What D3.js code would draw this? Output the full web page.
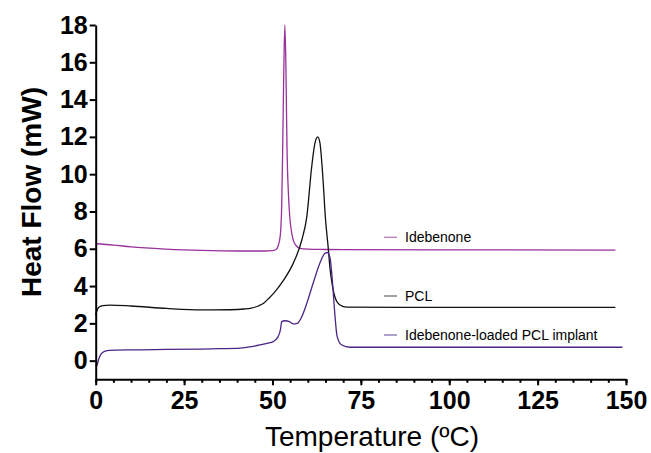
<!DOCTYPE html>
<meta charset="utf-8">
<style>
body{margin:0;background:#fff;}
svg text{font-family:"Liberation Sans",Arial,sans-serif;}
.axis path,.axis line{stroke:#000;stroke-width:2px;}
.axis text{font:bold 25px "Liberation Sans",Arial,sans-serif;fill:#000;}
</style>
<svg id="chart" width="651" height="453"></svg>
<script src="https://d3js.org/d3.v7.min.js"></script>
<script>
// DSC thermograms, values (T in ºC, heat flow in mW)
const ideTemp = [0,5,10,20,30,40,48,50,51,51.6,52.2,52.6,52.9,53.2,53.5,53.8,54.1,54.5,54.9,55.4,55.9,56.8,57.8,60,65,70,100,147]
const ideFlow = [6.27,6.2,6.1,5.98,5.91,5.88,5.88,5.9,5.96,6.15,6.7,8.2,11.5,15.5,18.0,15.8,11.5,9.0,7.7,6.9,6.45,6.15,6.02,5.98,5.96,5.95,5.94,5.93]

const pclTemp = [0,0.5,1,2,4,10,20,30,38,42,44,46,47.5,49,50.5,53,55.9,58.3,59.7,61.1,62,62.8,63.4,64.2,65,65.8,66.3,66.8,67.7,69,71,100,147]
const pclFlow = [2.45,2.75,2.88,2.95,2.98,2.93,2.8,2.72,2.73,2.77,2.82,2.93,3.08,3.35,3.65,4.28,5.23,6.47,7.7,10.4,11.65,12.0,11.7,10.0,7.6,6.0,4.9,4.2,3.4,3.0,2.87,2.86,2.86]

const loadTemp = [0,0.3,0.8,1.5,2.5,4,10,20,30,35,40.8,43,46.5,48.5,50.2,51.6,52.3,52.6,53.5,54.8,55.9,57,58.3,59.7,61.5,63.4,64.8,65.6,66.3,67,67.7,68.3,69.6,71.9,100,149]
const loadFlow = [-0.23,-0.28,0.05,0.35,0.5,0.55,0.58,0.6,0.62,0.64,0.67,0.72,0.84,0.93,1.02,1.29,1.7,2.09,2.14,2.09,1.97,2.0,2.36,3.07,4.15,5.22,5.75,5.8,5.5,4.15,2.36,1.29,0.84,0.72,0.72,0.72]

const seriesNames = ['Idebenone','PCL','Idebenone-loaded PCL implant']
const seriesColors = ['#98309a','#111111','#4a2586']
const legendColors = ['#b070b0','#666666','#7a62aa']

const xTicks = d3.range(0,151,25)
const xMinor = d3.range(0,151,5)
const yTicks = d3.range(0,19,2)

const svg = d3.select('#chart')
const x = d3.scaleLinear().domain([0,150]).range([95.7,626])
const y = d3.scaleLinear().domain([-1,18]).range([379.3,25])

const series = [
  {temp:ideTemp, flow:ideFlow},
  {temp:pclTemp, flow:pclFlow},
  {temp:loadTemp, flow:loadFlow}
]

let line = d3.line()
  .x(d => x(d[0]))
  .y(d => y(d[1]))
  .curve(d3.curveMonotoneX)

svg.selectAll('path.curve')
  .data(series)
  .enter()
  .append('path')
  .attr('class','curve')
  .attr('fill','none')
  .attr('stroke',(_,i) => seriesColors[i])
  .attr('stroke-width',1.3)
  .attr('d', s => line(s.temp.map((t,i) => [t, s.flow[i]])))

// legend labels sit above the flat tail of each curve
const legendY = [237.3, 296, 335]
const leg = svg.selectAll('g.leg')
  .data(seriesNames)
  .enter()
  .append('g')
  .attr('class','leg')
  .attr('transform',(_,i) => `translate(384,${legendY[i]})`)
leg.append('line')
  .attr('x1',0).attr('x2',13)
  .attr('stroke',(_,i) => legendColors[i])
  .attr('stroke-width',1.2)
leg.append('text')
  .attr('x',21).attr('y',5)
  .style('font-size','14px')
  .text(d => d)

// axes
svg.append('g')
  .attr('class','axis')
  .attr('transform',`translate(0,${y(-1)})`)
  .call(d3.axisBottom(x).tickValues(xMinor).tickSize(3.5).tickSizeOuter(0).tickFormat(''))
svg.append('g')
  .attr('class','axis')
  .attr('transform',`translate(0,${y(-1)})`)
  .call(d3.axisBottom(x).tickValues(xTicks).tickSize(6).tickSizeOuter(0).tickPadding(5.5))
  .call(g => g.select('.domain').remove())
svg.append('g')
  .attr('class','axis')
  .attr('transform',`translate(${x(0)},0)`)
  .call(d3.axisLeft(y).tickValues(yTicks).tickSize(6).tickSizeOuter(0).tickPadding(2))

svg.append('text')
  .attr('transform','translate(41,192) rotate(-90)')
  .attr('text-anchor','middle')
  .style('font','bold 28px "Liberation Sans",Arial,sans-serif')
  .text('Heat Flow (mW)')

svg.append('text')
  .attr('x',372).attr('y',446)
  .attr('text-anchor','middle')
  .style('font-size','28px')
  .text('Temperature (ºC)')
</script>
